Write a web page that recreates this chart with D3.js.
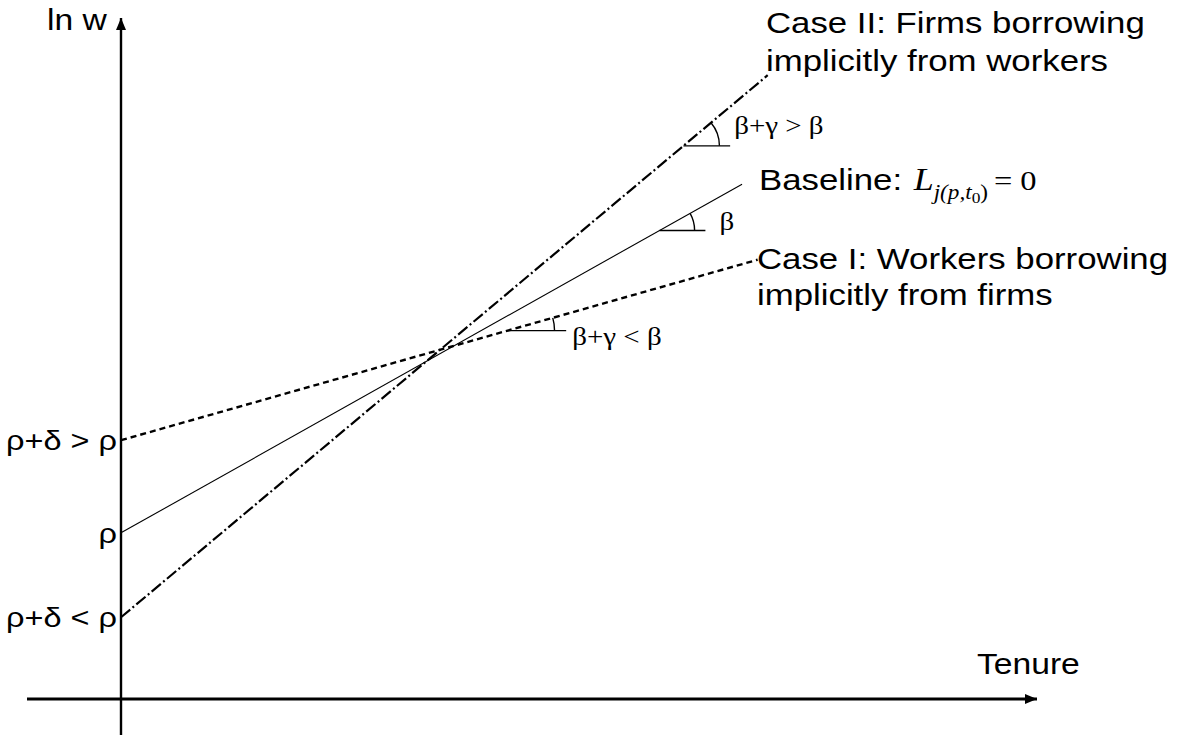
<!DOCTYPE html>
<html>
<head>
<meta charset="utf-8">
<script src="https://cdn.jsdelivr.net/npm/d3@7"></script>
<style>
  html, body { margin: 0; padding: 0; background: #fff; }
  svg { display: block; }
  .sans { font-family: "Liberation Sans", Arial, sans-serif; fill: #000; }
  .serif { font-family: "Liberation Serif", "Times New Roman", serif; fill: #000; }
</style>
</head>
<body>
<svg id="chart" width="1178" height="736"></svg>
<script>
// ---- Data (abstract units: tenure 0..100, ln w 0..100) ----
const seriesNames = ["Baseline", "Case I", "Case II"];
const tenureStart = [0, 0, 0];
const tenureEnd = [67.8, 69.5, 70.6];
const lnwStart = [24.4, 38.0, 12.0];
const lnwEnd = [75.6, 64.5, 91.6];
const startLabels = ["ρ", "ρ+δ > ρ", "ρ+δ < ρ"];
const angleAt = [58.8, 42.2, 61.4];          // tenure where slope marks sit
const angleLen = [5.0, 6.4, 5.1];            // length of horizontal reference
const angleLabels = ["β", "β+γ < β", "β+γ > β"];
const xLabel = "Tenure";
const yLabel = "ln w";

const svg = d3.select("#chart");
const x = d3.scaleLinear().domain([0, 100]).range([121, 1037]);
const y = d3.scaleLinear().domain([0, 100]).range([699, 18]);

const K = 1.16; // horizontal stretch of the lettering
function stretch(sel, x0, k = K) {
  sel.attr("transform", `translate(${x0},0) scale(${k},1) translate(${-x0},0)`);
  return sel;
}

const styles = [
  { width: 1.1, dash: null },
  { width: 2.4, dash: "6,4" },
  { width: 2.2, dash: "12,3,2,3" }
];

// arrow markers
const defs = svg.append("defs");
defs.append("marker").attr("id", "arr").attr("viewBox", "0 0 12 10")
  .attr("refX", 12).attr("refY", 5).attr("markerWidth", 12).attr("markerHeight", 10)
  .attr("markerUnits", "userSpaceOnUse").attr("orient", "auto")
  .append("path").attr("d", "M0,0 L12,5 L0,10 Z").attr("fill", "#000");

// axes
svg.append("line").attr("x1", 27).attr("x2", x.range()[1]).attr("y1", y(0)).attr("y2", y(0))
  .attr("stroke", "#000").attr("stroke-width", 3.2).attr("marker-end", "url(#arr)");
svg.append("line").attr("x1", x(0)).attr("x2", x(0)).attr("y1", 735).attr("y2", y(100))
  .attr("stroke", "#000").attr("stroke-width", 2.4).attr("marker-end", "url(#arr)");

stretch(svg.append("text").attr("class", "sans").attr("x", 47).attr("y", 30)
  .attr("font-size", 29).text(yLabel), 47);
stretch(svg.append("text").attr("class", "sans").attr("x", 977).attr("y", 674)
  .attr("font-size", 29).text(xLabel), 977);

// lines
const line = d3.line().x(d => x(d[0])).y(d => y(d[1]));
seriesNames.forEach((name, i) => {
  svg.append("path")
    .datum([[tenureStart[i], lnwStart[i]], [tenureEnd[i], lnwEnd[i]]])
    .attr("d", line)
    .attr("fill", "none").attr("stroke", "#000")
    .attr("stroke-width", styles[i].width)
    .attr("stroke-dasharray", styles[i].dash);
  // start labels
  const lx = x(0) - 4;
  stretch(svg.append("text").attr("class", "sans")
    .attr("x", lx).attr("y", y(lnwStart[i]) + 10)
    .attr("text-anchor", "end").attr("font-size", 28)
    .text(startLabels[i]), lx);
});

// slope marks
const radii = [35, 47, 36];
const labelDx = [14, 6, 4];
const labelDy = [0, 14, -12];
seriesNames.forEach((name, i) => {
  const slopeData = (lnwEnd[i] - lnwStart[i]) / (tenureEnd[i] - tenureStart[i]);
  const vx = x(angleAt[i]);
  const vy = y(lnwStart[i] + slopeData * angleAt[i]);
  const hx = x(angleAt[i] + angleLen[i]);
  svg.append("line").attr("x1", vx).attr("x2", hx).attr("y1", vy).attr("y2", vy)
    .attr("stroke", "#000").attr("stroke-width", 1.4);
  const pxSlope = (y(lnwStart[i]) - y(lnwEnd[i])) / (x(tenureEnd[i]) - x(tenureStart[i]));
  const ang = Math.atan(pxSlope);
  const r = radii[i];
  const ax = vx + r * Math.cos(ang), ay = vy - r * Math.sin(ang);
  svg.append("path")
    .attr("d", `M${ax},${ay} A${r},${r} 0 0 1 ${vx + r},${vy}`)
    .attr("fill", "none").attr("stroke", "#000").attr("stroke-width", 1.4);
  const tx = hx + labelDx[i];
  stretch(svg.append("text").attr("class", "serif")
    .attr("x", tx).attr("y", vy + labelDy[i])
    .attr("font-size", 25).text(angleLabels[i]), tx);
});

// right-hand labels
const caseII = stretch(svg.append("text").attr("class", "sans").attr("font-size", 30), 766);
caseII.append("tspan").attr("x", 766).attr("y", 33).text("Case II: Firms borrowing");
caseII.append("tspan").attr("x", 766).attr("y", 71).text("implicitly from workers");

const caseI = stretch(svg.append("text").attr("class", "sans").attr("font-size", 30), 757);
caseI.append("tspan").attr("x", 757).attr("y", 269).text("Case I: Workers borrowing");
caseI.append("tspan").attr("x", 757).attr("y", 305).text("implicitly from firms");

const base = stretch(svg.append("text").attr("x", 759).attr("y", 190), 759);
base.append("tspan").attr("class", "sans").attr("font-size", 30).text("Baseline:");
base.append("tspan").attr("class", "serif").attr("font-size", 31).attr("font-style", "italic")
  .attr("dx", 10).text("L");
base.append("tspan").attr("class", "serif").attr("font-size", 20).attr("font-style", "italic")
  .attr("dy", 9).text("j(p,t");
base.append("tspan").attr("class", "serif").attr("font-size", 15)
  .attr("dy", 4).text("0");
base.append("tspan").attr("class", "serif").attr("font-size", 20)
  .attr("dy", -4).text(")");
base.append("tspan").attr("class", "serif").attr("font-size", 28)
  .attr("dy", -9).attr("dx", 5).text("= 0");
</script>
</body>
</html>
